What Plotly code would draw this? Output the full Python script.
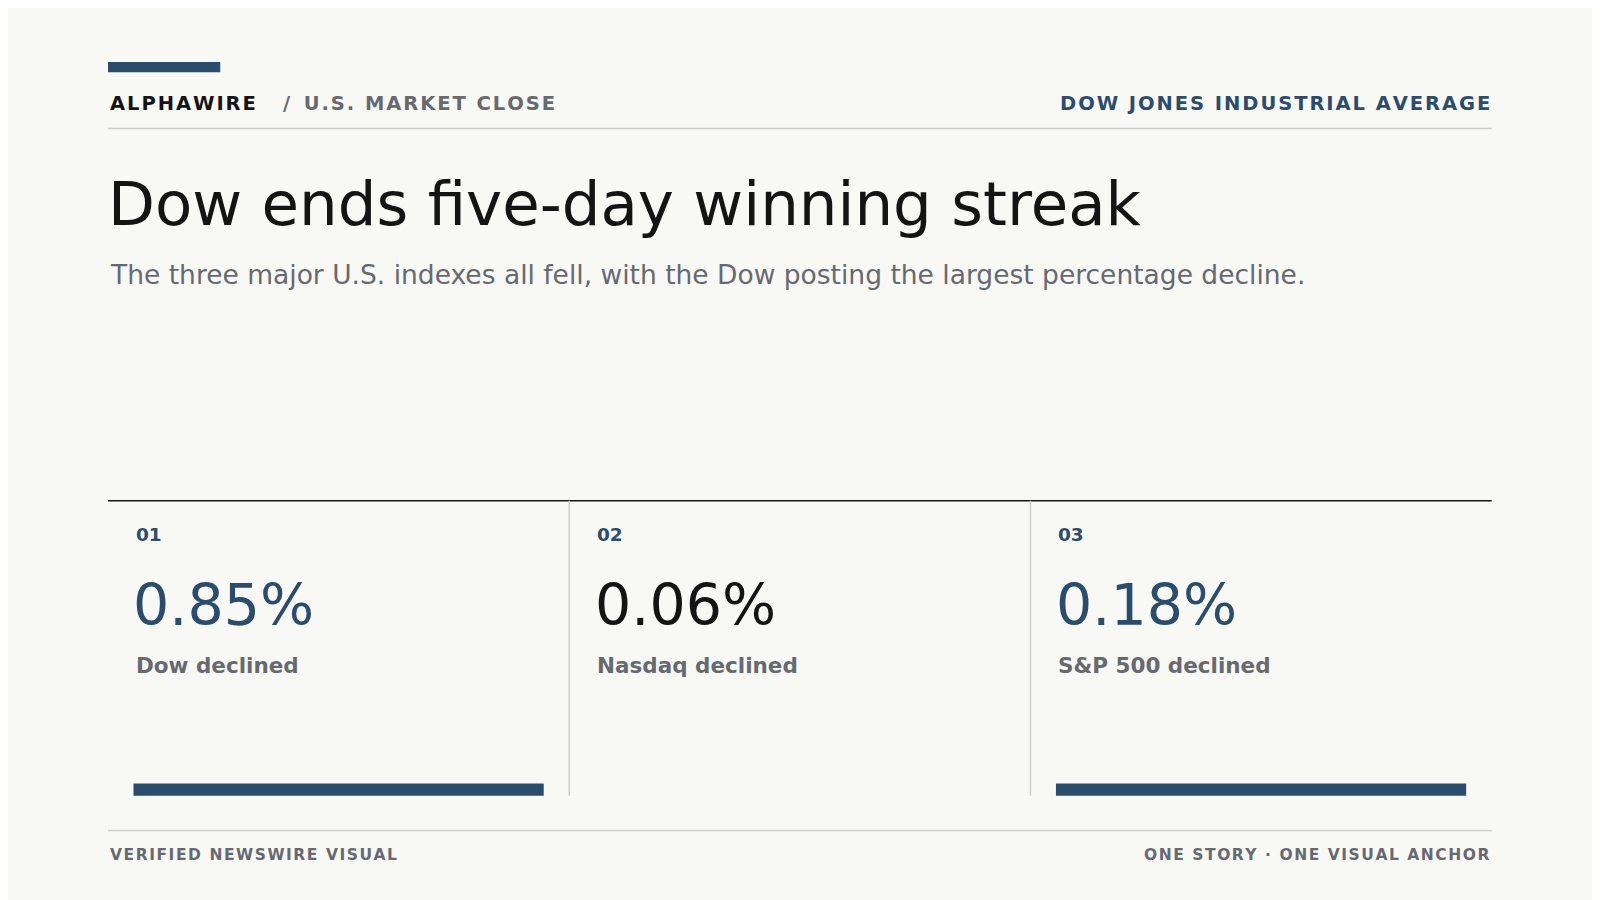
import plotly.graph_objects as go

# card data
nums = ["01", "02", "03"]
values = ["0.85%", "0.06%", "0.18%"]
labels = ["Dow declined", "Nasdaq declined", "S&P 500 declined"]
highlight = [True, False, True]

BLUE = "#2a4d6e"
GRAY = "#666a70"
INK = "#141414"
LINE = "#cccccc"
F = "DejaVu Sans"
HS = "\u200a"  # hair space, fakes letter tracking


def track(s):
    return HS.join(s)


fig = go.Figure()
shapes = []
ann = []

def txt(x, y, t, size, color, bold=False, anchor="left"):
    ann.append(dict(x=x, y=y, text=f"<b>{t}</b>" if bold else t, showarrow=False,
                    xanchor=anchor, yanchor="middle", xref="x", yref="y",
                    font=dict(family=F, size=size, color=color)))

def rect(x0, y0, x1, y1, color):
    shapes.append(dict(type="rect", x0=x0, x1=x1, y0=y0, y1=y1, fillcolor=color,
                       line_width=0, xref="x", yref="y"))

def line(x0, y0, x1, y1, color, w=1.5):
    shapes.append(dict(type="line", x0=x0, x1=x1, y0=y0, y1=y1,
                       line=dict(color=color, width=w), xref="x", yref="y"))

# header
rect(106, 61, 216, 71, BLUE)
txt(106, 102, track("ALPHAWIRE"), 19.5, INK, True)
txt(276, 102, "/  " + track("U.S. MARKET CLOSE"), 19.5, GRAY, True)
txt(1462, 102, track("DOW JONES INDUSTRIAL AVERAGE"), 19.5, BLUE, True, "right")
line(106, 126, 1462, 126, LINE)
txt(104, 200, "Dow ends five-day winning streak", 61, INK)
txt(106, 269, "The three major U.S. indexes all fell, with the Dow posting the largest percentage decline.", 26.5, GRAY)

# cards
line(106, 491, 1462, 491, INK, 1.5)
col_w = (1462 - 106) / 3
for i in range(3):
    x0 = 106 + i * col_w
    if i > 0:
        line(x0, 491, x0, 780, LINE)
    txt(x0 + 25, 524, nums[i], 18.5, BLUE, True)
    txt(x0 + 23, 593, values[i], 57, BLUE if highlight[i] else INK)
    txt(x0 + 25, 652, labels[i], 21.5, GRAY, True)
    if highlight[i]:
        rect(x0 + 25, 768, x0 + col_w - 25, 780, BLUE)

# footer
line(106, 814, 1462, 814, LINE)
txt(106, 838, track("VERIFIED NEWSWIRE VISUAL"), 15.5, GRAY, True)
txt(1462, 838, track("ONE STORY · ONE VISUAL ANCHOR"), 15.5, GRAY, True, "right")

fig.update_layout(
    width=1600, height=900, margin=dict(l=0, r=0, t=0, b=0),
    paper_bgcolor="#f8f8f5", plot_bgcolor="#f8f8f5",
    xaxis=dict(range=[8, 1576], visible=False, fixedrange=True),
    yaxis=dict(range=[890, 8], visible=False, fixedrange=True),
    shapes=shapes, annotations=ann, showlegend=False,
)
fig.write_html("out.html")
